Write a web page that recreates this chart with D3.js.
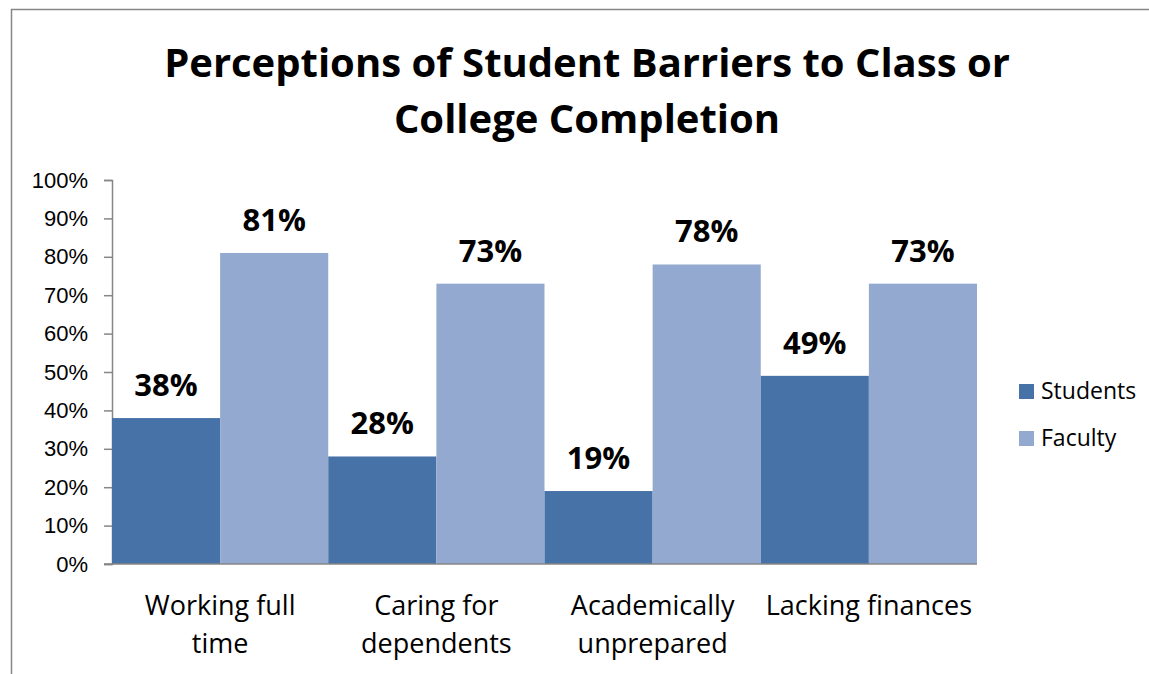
<!DOCTYPE html>
<html>
<head>
<meta charset="utf-8">
<script src="https://cdn.jsdelivr.net/npm/d3@7"></script>
<style>
  body { margin: 0; background: #fff; }
  svg { display: block; font-family: "Open Sans", "Noto Sans", sans-serif; }
</style>
</head>
<body>
<svg id="chart" width="1149" height="674"></svg>
<script>
// chart data
const categories = [["Working full", "time"], ["Caring for", "dependents"], ["Academically", "unprepared"], ["Lacking finances"]];
const seriesNames = ["Students", "Faculty"];
const students = [38, 28, 19, 49];
const faculty = [81, 73, 78, 73];
const yTicks = [0, 10, 20, 30, 40, 50, 60, 70, 80, 90, 100];
const colors = ["#4672A8", "#94A9D0"];

const svg = d3.select("#chart");

// outer chart border (only top/left visible in picture)
svg.append("path")
  .attr("d", "M11.5,674 V9.5 H1149")
  .attr("fill", "none")
  .attr("stroke", "#868686")
  .attr("stroke-width", 1.5);

// title
const title = svg.append("text")
  .attr("text-anchor", "middle")
  .style("font-size", "40px")
  .style("font-weight", "bold")
  .attr("fill", "#000");
title.append("tspan").attr("x", 587).attr("y", 77).text("Perceptions of Student Barriers to Class or");
title.append("tspan").attr("x", 587).attr("y", 133).text("College Completion");

const plot = { left: 112, right: 977, top: 180, bottom: 564 };

const x = d3.scaleBand()
  .domain(d3.range(categories.length))
  .range([plot.left, plot.right])
  .paddingInner(0).paddingOuter(0);

const xs = d3.scaleBand()
  .domain(seriesNames)
  .range([0, x.bandwidth()]);

const y = d3.scaleLinear()
  .domain([0, 100])
  .range([plot.bottom, plot.top]);

// y axis
const yAxis = svg.append("g")
  .attr("transform", `translate(${plot.left},0)`)
  .call(d3.axisLeft(y).tickValues(yTicks).tickSize(8).tickPadding(16).tickFormat(d => d + "%"));
yAxis.select(".domain").attr("stroke", "#868686").attr("stroke-width", 1.5);
yAxis.selectAll(".tick line").attr("stroke", "#868686").attr("stroke-width", 1.5);
yAxis.selectAll(".tick text").style("font-size", "22px").attr("fill", "#000");

// bars
const rows = categories.map((c, i) => ({ i, values: [students[i], faculty[i]] }));
const groups = svg.append("g").selectAll("g")
  .data(rows)
  .join("g")
  .attr("transform", d => `translate(${x(d.i)},0)`);

groups.selectAll("rect")
  .data(d => d.values.map((v, k) => ({ v, k })))
  .join("rect")
  .attr("x", d => xs(seriesNames[d.k]))
  .attr("y", d => y(d.v))
  .attr("width", xs.bandwidth())
  .attr("height", d => y(0) - y(d.v))
  .attr("fill", d => colors[d.k]);

groups.selectAll("text.val")
  .data(d => d.values.map((v, k) => ({ v, k })))
  .join("text")
  .attr("class", "val")
  .attr("x", d => xs(seriesNames[d.k]) + xs.bandwidth() / 2)
  .attr("y", d => y(d.v) - 22)
  .attr("text-anchor", "middle")
  .style("font-size", "31px")
  .style("font-weight", "bold")
  .text(d => d.v + "%");

// x axis line
svg.append("line")
  .attr("x1", plot.left - 8).attr("x2", plot.right)
  .attr("y1", plot.bottom).attr("y2", plot.bottom)
  .attr("stroke", "#868686").attr("stroke-width", 1.5);

// category labels
const catText = svg.append("g").selectAll("text")
  .data(categories)
  .join("text")
  .attr("text-anchor", "middle")
  .style("font-size", "27px")
  .attr("fill", "#000");
catText.each(function (d, i) {
  d3.select(this).selectAll("tspan")
    .data(d)
    .join("tspan")
    .attr("x", x(i) + x.bandwidth() / 2)
    .attr("y", (t, j) => 615 + j * 38)
    .text(t => t);
});

// legend
const legend = svg.append("g").selectAll("g")
  .data(seriesNames)
  .join("g")
  .attr("transform", (d, i) => `translate(1019,${384 + i * 47})`);
legend.append("rect").attr("width", 15).attr("height", 15).attr("fill", (d, i) => colors[i]);
legend.append("text")
  .attr("x", 22).attr("y", 15)
  .style("font-size", "23px")
  .text(d => d);
</script>
</body>
</html>
